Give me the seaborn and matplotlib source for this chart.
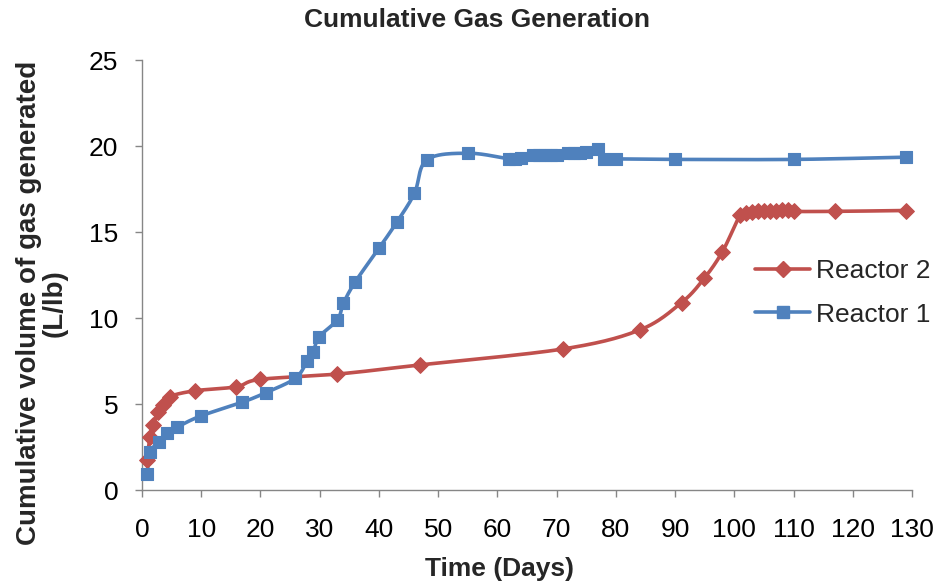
import numpy as np
import pandas as pd
import matplotlib
matplotlib.use("Agg")
import matplotlib.pyplot as plt
from matplotlib.lines import Line2D
import seaborn as sns

# Reactor 1 (blue squares)
days_r1 = [0.9, 1.35, 2.9, 4.3, 5.9, 9.9, 16.9, 20.9, 25.9, 27.9, 28.9, 29.9,
           33, 34, 36, 40, 43, 46, 48.1, 55.1, 62, 63, 64, 66, 67, 68, 69, 70,
           72, 73, 74, 75, 77, 78, 80, 90, 110, 129]
gas_r1 = [0.93, 2.2, 2.8, 3.3, 3.65, 4.3, 5.1, 5.66, 6.5, 7.5, 8.04, 8.9,
          9.9, 10.85, 12.1, 14.05, 15.56, 17.25, 19.2, 19.58, 19.25, 19.25, 19.3,
          19.45, 19.45, 19.45, 19.5, 19.5, 19.6, 19.6, 19.6, 19.65, 19.8, 19.25,
          19.25, 19.22, 19.22, 19.35]

# Reactor 2 (red diamonds)
days_r2 = [0.8, 1.35, 1.9, 2.75, 3.6, 4.7, 8.95, 15.9, 19.9, 33, 46.9, 71.1,
           84, 91.1, 94.9, 98, 101, 102, 103, 104, 105, 106, 107, 108, 109, 110,
           117, 129]
gas_r2 = [1.74, 3.1, 3.78, 4.55, 4.94, 5.43, 5.77, 6.0, 6.43, 6.74, 7.27, 8.2,
          9.3, 10.9, 12.3, 13.86, 16.0, 16.1, 16.15, 16.2, 16.2, 16.2, 16.25,
          16.3, 16.3, 16.2, 16.2, 16.25]

series_names = ["Reactor 2", "Reactor 1"]
series_colors = ["#C0504D", "#4F81BD"]
series_markers = ["D", "s"]
x_ticks = list(range(0, 131, 10))
y_ticks = list(range(0, 26, 5))

title_text = "Cumulative Gas Generation"
x_label = "Time (Days)"
y_label = "Cumulative volume of gas generated\n(L/lb)"

sns.set_theme(style="white")
plt.rcParams["font.family"] = ["Liberation Sans", "DejaVu Sans"]

W, H = 938, 583
fig = plt.figure(figsize=(W / 100, H / 100), dpi=100)
ax_left, ax_right, ax_top, ax_bottom = 142, 912, 60, 490
ax = fig.add_axes([ax_left / W, (H - ax_bottom) / H,
                   (ax_right - ax_left) / W, (ax_bottom - ax_top) / H])

x_min, x_max, y_min, y_max = 0, 130, 0, 25
sx = (ax_right - ax_left) / (x_max - x_min)
sy = (ax_bottom - ax_top) / (y_max - y_min)


def smooth_curve(x, y, steps=24):
    """Cardinal (Catmull-Rom) Bezier smoothing, computed in pixel space."""
    px = np.asarray(x, float) * sx
    py = np.asarray(y, float) * sy
    pts = np.column_stack([px, py])
    n = len(pts)
    out = [pts[0]]
    t = np.linspace(0, 1, steps + 1)[1:, None]
    for i in range(n - 1):
        p0 = pts[max(i - 1, 0)]
        p1 = pts[i]
        p2 = pts[i + 1]
        p3 = pts[min(i + 2, n - 1)]
        c1 = p1 + (p2 - p0) / 6.0
        c2 = p2 - (p3 - p1) / 6.0
        seg = ((1 - t) ** 3) * p1 + 3 * ((1 - t) ** 2) * t * c1 \
            + 3 * (1 - t) * t ** 2 * c2 + t ** 3 * p2
        out.extend(seg)
    out = np.array(out)
    return out[:, 0] / sx, out[:, 1] / sy


all_days = [days_r2, days_r1]
all_gas = [gas_r2, gas_r1]

for name, color, marker, d, g in zip(series_names, series_colors,
                                     series_markers, all_days, all_gas):
    cx, cy = smooth_curve(d, g)
    curve = pd.DataFrame({"day": cx, "gas": cy})
    sns.lineplot(data=curve, x="day", y="gas", sort=False, color=color,
                 linewidth=2.6, ax=ax, legend=False, estimator=None)
    pts = pd.DataFrame({"day": d, "gas": g})
    sns.scatterplot(data=pts, x="day", y="gas", marker=marker, color=color,
                    s=(82 if marker == "s" else 64), edgecolor=color,
                    linewidth=0.8, ax=ax, legend=False, zorder=3)

ax.set_xlim(x_min, x_max)
ax.set_ylim(y_min, y_max)
ax.set_xticks(x_ticks)
ax.set_yticks(y_ticks)
ax.set_xlabel("")
ax.set_ylabel("")

spine_color = "#868686"
for side in ["top", "right"]:
    ax.spines[side].set_visible(False)
for side in ["left", "bottom"]:
    ax.spines[side].set_color(spine_color)
    ax.spines[side].set_linewidth(1.0)
ax.tick_params(axis="both", which="major", direction="out", length=5,
               width=1.0, color=spine_color, labelsize=19, labelcolor="black")
ax.tick_params(axis="x", pad=15, bottom=True)
ax.tick_params(axis="y", pad=12, left=True)
for coll in ax.collections:
    coll.set_clip_on(False)
for ln in ax.lines:
    ln.set_clip_on(False)

fig.text(477 / W, 1 - 20 / H, title_text, ha="center", va="center",
         fontsize=19, fontweight="bold")
fig.text(499 / W, 1 - 569 / H, x_label, ha="center", va="center",
         fontsize=19, fontweight="bold")
fig.text(42 / W, 1 - 303 / H, y_label, ha="center", va="center",
         rotation=90, fontsize=20, fontweight="bold", linespacing=1.0,
         multialignment="center")

handles = [Line2D([0], [0], color=c, marker=m, linewidth=2.6,
                  markersize=(8 if m == "D" else 9), markeredgecolor=c)
           for c, m in zip(series_colors, series_markers)]
fig.legend(handles, series_names, loc="upper left",
           bbox_to_anchor=(755 / W, 1 - 259 / H), frameon=False,
           fontsize=19, handlelength=2.1, handletextpad=0.2,
           labelspacing=0.74, borderpad=0, borderaxespad=0)

fig.savefig("out.png", dpi=100)
